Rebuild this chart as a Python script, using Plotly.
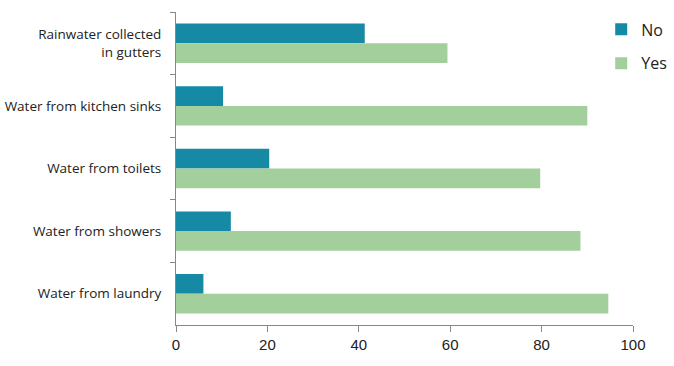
import plotly.graph_objects as go

categories = ["Rainwater collected<br>in gutters", "Water from kitchen sinks", "Water from toilets",
              "Water from showers", "Water from laundry"]
no_values = [41.3, 10.3, 20.4, 12.0, 6.0]
yes_values = [59.4, 90.0, 79.7, 88.5, 94.6]
x_ticks = [0, 20, 40, 60, 80, 100]

fig = go.Figure()
fig.add_trace(go.Bar(y=categories, x=no_values, name="No", orientation="h",
                     marker=dict(color="#168aa4", line=dict(width=0)), legendgroup="no"))
fig.add_trace(go.Bar(y=categories, x=yes_values, name="Yes", orientation="h",
                     marker=dict(color="#a2cf9c", line=dict(width=0)), legendgroup="yes"))

fig.update_layout(
    width=674, height=366,
    margin=dict(l=176, r=41, t=12, b=41, autoexpand=False),
    paper_bgcolor="white", plot_bgcolor="white",
    barmode="group", bargap=0.37, bargroupgap=0,
    font=dict(family="Open Sans, sans-serif", color="#222"),
    legend=dict(x=0.892, y=0.966, xref="container", yref="container",
                xanchor="left", yanchor="top",
                font=dict(size=16, family="Open Sans, sans-serif", color="#222"),
                traceorder="grouped", tracegroupgap=10, bgcolor="rgba(0,0,0,0)",
                itemwidth=30),
    xaxis=dict(range=[0, 100], tickvals=x_ticks, showgrid=False, zeroline=False,
               showline=True, linecolor="#888", linewidth=1, automargin=False,
               ticks="outside", ticklen=6, tickcolor="#888",
               tickfont=dict(family="Liberation Sans, Arial, sans-serif", size=15, color="#222")),
    yaxis=dict(autorange="reversed", showgrid=False, zeroline=False, automargin=False,
               showline=True, linecolor="#888", linewidth=1,
               ticks="outside", tickson="boundaries", ticklen=5, tickcolor="#888",
               tickfont=dict(size=13.5, color="#222"), ticklabelstandoff=11),
)

fig.write_html("out.html", config={"displayModeBar": False},
               post_script="document.body.style.margin='0';")
